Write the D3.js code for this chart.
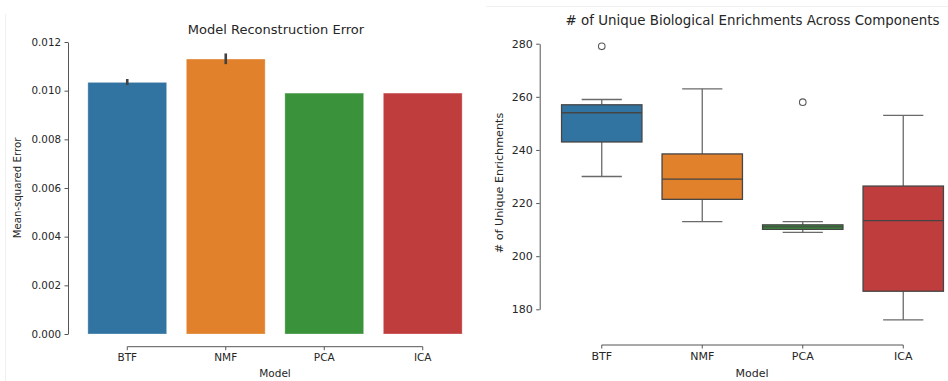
<!DOCTYPE html>
<html>
<head>
<meta charset="utf-8">
<script src="https://cdn.jsdelivr.net/npm/d3@7"></script>
<style>
  body { margin: 0; background: #fff; }
  svg { display: block; font-family: "DejaVu Sans", sans-serif; }
</style>
</head>
<body>
<svg id="chart" width="948" height="381"></svg>
<script>
// categories and colours
const models = ["BTF", "NMF", "PCA", "ICA"];
const colors = ["#3274a1", "#e1812c", "#3a923a", "#c03d3e"];

// left panel: mean squared error with confidence interval
const mseMean = [0.01034, 0.01130, 0.00990, 0.00990];
const mseLow  = [0.01023, 0.01109, 0.00990, 0.00990];
const mseHigh = [0.01048, 0.01153, 0.00990, 0.00990];
const mseTicks = [0, 0.002, 0.004, 0.006, 0.008, 0.010, 0.012];

// right panel: box stats of unique enrichments
const whiskLow  = [230, 213, 209, 176];
const q1        = [243, 221.4, 210.1, 186.8];
const medians   = [254, 229, 211, 213.4];
const q3        = [257, 238.5, 211.8, 226.4];
const whiskHigh = [259, 263, 213, 253];
const outliers  = [[279], [], [258], []];
const enrTicks = [180, 200, 220, 240, 260, 280];

const svg = d3.select("#chart");
const textColor = "#262626";
const spineColor = "#555";

// faint panel borders from the notebook
svg.append("line").attr("x1", 5.5).attr("x2", 5.5).attr("y1", 14).attr("y2", 381)
    .attr("stroke", "#f0f0f0");
svg.append("line").attr("x1", 486).attr("x2", 948).attr("y1", 6.5).attr("y2", 6.5)
    .attr("stroke", "#f0f0f0");

function styleAxis(g, size) {
    g.selectAll("text").attr("fill", textColor).style("font-size", size + "px")
        .style("font-family", "DejaVu Sans");
    g.selectAll("line").attr("stroke", spineColor);
    g.selectAll(".domain").attr("stroke", spineColor);
}

function bottomAxis(x, yPos, size) {
    let g = svg.append("g")
        .attr("transform", `translate(0,${yPos})`)
        .call(d3.axisBottom(x).tickSize(3.5).tickPadding(3.5).tickSizeOuter(0));
    g.select(".domain").remove();
    let bw = x.bandwidth() / 2;
    g.append("line")
        .attr("x1", x(models[0]) + bw).attr("x2", x(models[models.length - 1]) + bw)
        .attr("y1", 0).attr("y2", 0).attr("stroke", spineColor);
    styleAxis(g, size);
}

// ---------- left: bar chart ----------
let x1 = d3.scaleBand().domain(models).range([78, 472]).paddingInner(0.2).paddingOuter(0.1);
let y1 = d3.scaleLinear().domain([0, 0.012]).range([334, 42]);

svg.selectAll(".bar")
    .data(models)
    .enter().append("rect")
    .attr("x", d => x1(d))
    .attr("width", x1.bandwidth())
    .attr("y", (d, i) => y1(mseMean[i]))
    .attr("height", (d, i) => y1(0) - y1(mseMean[i]))
    .attr("fill", (d, i) => colors[i])
    .attr("stroke", "#ffffff").attr("stroke-opacity", 0.3).attr("stroke-width", 1);

svg.selectAll(".err")
    .data(models)
    .enter().append("line")
    .attr("x1", d => x1(d) + x1.bandwidth() / 2)
    .attr("x2", d => x1(d) + x1.bandwidth() / 2)
    .attr("y1", (d, i) => y1(mseLow[i]))
    .attr("y2", (d, i) => y1(mseHigh[i]))
    .attr("stroke", "#424242").attr("stroke-width", 2.6);

let yAxis1 = svg.append("g")
    .attr("transform", "translate(68,0)")
    .call(d3.axisLeft(y1).tickValues(mseTicks).tickFormat(d3.format(".3f"))
        .tickSize(3.5).tickPadding(3.5).tickSizeOuter(0));
styleAxis(yAxis1, 10.3);

bottomAxis(x1, 346.7, 10.5);

svg.append("text").attr("x", 276).attr("y", 34).attr("text-anchor", "middle")
    .attr("fill", textColor).style("font-size", "13px").text("Model Reconstruction Error");
svg.append("text").attr("x", 275).attr("y", 377).attr("text-anchor", "middle")
    .attr("fill", textColor).style("font-size", "10.5px").text("Model");
svg.append("text").attr("transform", "translate(21,188) rotate(-90)").attr("text-anchor", "middle")
    .attr("fill", textColor).style("font-size", "10.2px").text("Mean-squared Error");

// ---------- right: box plot ----------
let x2 = d3.scaleBand().domain(models).range([551.5, 953.5]).paddingInner(0.2).paddingOuter(0.1);
let y2 = d3.scaleLinear().domain([180, 280]).range([309.3, 43.7]);
let bw2 = x2.bandwidth();

models.forEach(function(m, i) {
    let cx = x2(m) + bw2 / 2;
    let g = svg.append("g");
    // whiskers
    g.append("line").attr("x1", cx).attr("x2", cx)
        .attr("y1", y2(whiskHigh[i])).attr("y2", y2(q3[i]))
        .attr("stroke", "#6a6a6a").attr("stroke-width", 1.3);
    g.append("line").attr("x1", cx).attr("x2", cx)
        .attr("y1", y2(q1[i])).attr("y2", y2(whiskLow[i]))
        .attr("stroke", "#6a6a6a").attr("stroke-width", 1.3);
    // caps
    [whiskHigh[i], whiskLow[i]].forEach(function(v) {
        g.append("line").attr("x1", cx - bw2 / 4).attr("x2", cx + bw2 / 4)
            .attr("y1", y2(v)).attr("y2", y2(v))
            .attr("stroke", "#6a6a6a").attr("stroke-width", 1.3);
    });
    // box
    g.append("rect").attr("x", x2(m)).attr("width", bw2)
        .attr("y", y2(q3[i])).attr("height", y2(q1[i]) - y2(q3[i]))
        .attr("fill", colors[i]).attr("stroke", "#454545").attr("stroke-width", 1.3);
    // median
    g.append("line").attr("x1", x2(m)).attr("x2", x2(m) + bw2)
        .attr("y1", y2(medians[i])).attr("y2", y2(medians[i]))
        .attr("stroke", "#454545").attr("stroke-width", 1.3);
    // outliers
    g.selectAll(".out").data(outliers[i]).enter().append("circle")
        .attr("cx", cx).attr("cy", d => y2(d)).attr("r", 3.3)
        .attr("fill", "none").attr("stroke", "#5a5a5a").attr("stroke-width", 1.1);
});

let yAxis2 = svg.append("g")
    .attr("transform", "translate(539.7,0)")
    .call(d3.axisLeft(y2).tickValues(enrTicks).tickSize(3.5).tickPadding(3.5).tickSizeOuter(0));
styleAxis(yAxis2, 11);

bottomAxis(x2, 345, 11);

svg.append("text").attr("x", 752.5).attr("y", 25).attr("text-anchor", "middle")
    .attr("fill", textColor).style("font-size", "13.4px")
    .text("# of Unique Biological Enrichments Across Components");
svg.append("text").attr("x", 752).attr("y", 377).attr("text-anchor", "middle")
    .attr("fill", textColor).style("font-size", "11px").text("Model");
svg.append("text").attr("transform", "translate(503,183) rotate(-90)").attr("text-anchor", "middle")
    .attr("fill", textColor).style("font-size", "11.2px").text("# of Unique Enrichments");
</script>
</body>
</html>
